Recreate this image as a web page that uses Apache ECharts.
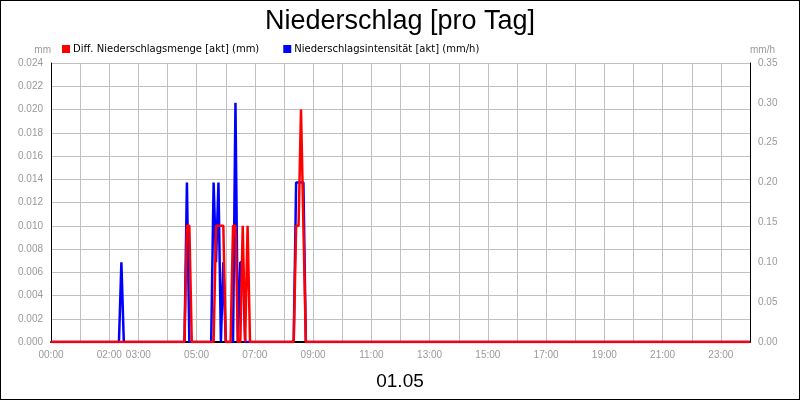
<!DOCTYPE html>
<html><head><meta charset="utf-8">
<script src="https://cdn.jsdelivr.net/npm/echarts@6/dist/echarts.min.js"></script>
<style>body{margin:0}#c{width:798px;height:398px;border:1px solid #000}</style>
</head><body><div id="c"></div>
<script>
// rain events (5 min slots), everything else is 0
var mengeTimes = ['04:40','04:45','05:40','05:45','05:50','05:55','06:15','06:20','06:35','06:45','08:25','08:30','08:35','08:40'];
var mengeVals  = [0.01,0.01,0.01,0.01,0.01,0.01,0.01,0.01,0.01,0.01,0.01,0.01,0.02,0.01];
var intensTimes = ['02:25','04:40','05:35','05:40','05:45','05:55','06:20','06:30','06:35','08:25','08:30','08:35','08:40'];
var intensVals  = [0.1,0.2,0.2,0.1,0.2,0.1,0.3,0.1,0.1,0.2,0.2,0.2,0.2];
var shownLabels = ['00:00','02:00','03:00','05:00','07:00','09:00','11:00','13:00','15:00','17:00','19:00','21:00','23:00'];

function pad(n){return (n<10?'0':'')+n;}
var slots=[];
for(var h=0;h<24;h++)for(var m=0;m<60;m+=5)slots.push(pad(h)+':'+pad(m));
slots.push('24:00');
function build(times,vals){
	return slots.map(function(s){var i=times.indexOf(s);return i>=0?vals[i]:0;});
}
var myChart=echarts.init(document.getElementById('c'));
var grey='#999';
var option={
	animation:false,
	title:[{text:'Niederschlag [pro Tag]',left:'center',top:2,textStyle:{fontSize:27,fontWeight:'normal',color:'#000',fontFamily:'Liberation Sans'}},
		{text:'01.05',left:'center',top:366,textStyle:{fontSize:19,fontWeight:'normal',color:'#000',fontFamily:'Liberation Sans'}}],
	legend:{left:56,top:38,itemWidth:8,itemHeight:8,itemGap:24,icon:'rect',
		textStyle:{fontSize:10,color:'#000',fontFamily:'DejaVu Sans',padding:[0,0,0,-2]},
		data:['Diff. Niederschlagsmenge [akt] (mm)','Niederschlagsintensität [akt] (mm/h)']},
	grid:{left:50,right:49,top:62,bottom:57},
	xAxis:{type:'category',boundaryGap:false,data:slots,
		axisLine:{lineStyle:{color:'#000',width:2}},axisTick:{show:false},
		splitLine:{show:true,interval:function(i){return i%12===0;},lineStyle:{color:'#c0c0c0'}},
		axisLabel:{interval:0,formatter:function(v){return shownLabels.indexOf(v)>=0?v:'';},
			color:grey,fontSize:10,fontFamily:'Liberation Sans',showMaxLabel:false}},
	yAxis:[{type:'value',min:0,max:0.024,interval:0.002,name:'mm',nameGap:8,
		nameTextStyle:{color:grey,fontSize:10,align:'right'},
		axisLine:{show:true,lineStyle:{color:'#000'}},axisTick:{show:false},
		axisLabel:{color:grey,fontSize:10,formatter:function(v){return v.toFixed(3);}},
		splitLine:{lineStyle:{color:'#c0c0c0'}}},
		{type:'value',min:0,max:0.35,interval:0.05,name:'mm/h',nameGap:8,
		nameTextStyle:{color:grey,fontSize:10,align:'left'},
		axisLine:{show:true,lineStyle:{color:'#000'}},axisTick:{show:false},
		axisLabel:{color:grey,fontSize:10,formatter:function(v){return v.toFixed(2);}},
		splitLine:{show:false}}],
	series:[
		{name:'Niederschlagsintensität [akt] (mm/h)',type:'line',yAxisIndex:1,showSymbol:false,
			data:build(intensTimes,intensVals),color:'#0000ff',lineStyle:{width:2.5}},
		{name:'Diff. Niederschlagsmenge [akt] (mm)',type:'line',yAxisIndex:0,showSymbol:false,
			data:build(mengeTimes,mengeVals),color:'#ff0000',lineStyle:{width:2.5}}
	]
};
myChart.setOption(option);
</script></body></html>
